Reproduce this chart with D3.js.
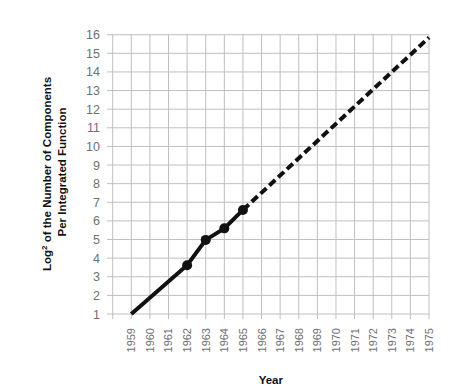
<!DOCTYPE html>
<html><head><meta charset="utf-8">
<script src="https://cdn.jsdelivr.net/npm/d3@7"></script>
<style>
html,body{margin:0;padding:0;background:#fff;}
svg{display:block;font-family:"Liberation Sans",Arial,Helvetica,sans-serif;}
</style></head>
<body><svg id="c" width="451" height="389"></svg>
<script>
const actualYears = [1959, 1962, 1963, 1964, 1965];
const actualValues = [1, 3.62, 4.98, 5.6, 6.59];
const markerYears = [1962, 1963, 1964, 1965];
const projYears = [1965, 1975];
const projValues = [6.59, 15.85];
const yTicks = d3.range(1, 17);
const xGridYears = d3.range(1958, 1976);
const xTickLabels = d3.range(1959, 1976);
const yTitle1 = "Log";
const yTitleSup = "2";
const yTitle1b = " of the Number of Components";
const yTitle2 = "Per Integrated Function";
const xTitle = "Year";

const svg = d3.select("#c");
const x = d3.scaleLinear().domain([1958, 1975]).range([112.7, 429]);
const y = d3.scaleLinear().domain([1, 16]).range([314, 34.7]);

const grid = svg.append("g").attr("stroke", "#bfbfbf").attr("stroke-width", 1);
grid.selectAll("line.h").data(yTicks).join("line")
  .attr("x1", 107).attr("x2", x(1975))
  .attr("y1", d => y(d)).attr("y2", d => y(d));
grid.selectAll("line.v").data(xGridYears).join("line")
  .attr("x1", d => x(d)).attr("x2", d => x(d))
  .attr("y1", y(16)).attr("y2", y(1) + 5);

svg.append("g").selectAll("text").data(yTicks).join("text")
  .attr("x", 100).attr("y", d => y(d)).attr("dy", "0.36em")
  .attr("text-anchor", "end").attr("font-size", 12.5).attr("fill", "#707070")
  .text(d => d);

svg.append("g").selectAll("text").data(xTickLabels).join("text")
  .attr("transform", d => `translate(${x(d)},328) rotate(-90)`)
  .attr("dy", "0.36em").attr("text-anchor", "end")
  .attr("font-size", 11).attr("fill", "#707070")
  .text(d => d);

svg.append("text").attr("x", (x(1958) + x(1975)) / 2).attr("y", 384)
  .attr("text-anchor", "middle").attr("font-size", 11.5).attr("font-weight", "bold")
  .attr("fill", "#111").text(xTitle);

const t1 = svg.append("text").attr("transform", "translate(51,174) rotate(-90)")
  .attr("text-anchor", "middle").attr("font-size", 11.5).attr("font-weight", "bold").attr("fill", "#111");
t1.append("tspan").text(yTitle1);
t1.append("tspan").attr("font-size", 8).attr("dy", -4).text(yTitleSup);
t1.append("tspan").attr("dy", 4).text(yTitle1b);
svg.append("text").attr("transform", "translate(66,172) rotate(-90)")
  .attr("text-anchor", "middle").attr("font-size", 11.5).attr("font-weight", "bold").attr("fill", "#111")
  .text(yTitle2);

const line = d3.line().x(d => x(d[0])).y(d => y(d[1]));
svg.append("path").datum(d3.zip(actualYears, actualValues))
  .attr("d", line).attr("fill", "none").attr("stroke", "#111").attr("stroke-width", 4);
svg.append("path").datum(d3.zip(projYears, projValues))
  .attr("d", line).attr("fill", "none").attr("stroke", "#111").attr("stroke-width", 4)
  .attr("stroke-dasharray", "8,4");
svg.append("g").selectAll("circle").data(markerYears).join("circle")
  .attr("cx", d => x(d)).attr("cy", d => y(actualValues[actualYears.indexOf(d)]))
  .attr("r", 5).attr("fill", "#111");
</script></body></html>
